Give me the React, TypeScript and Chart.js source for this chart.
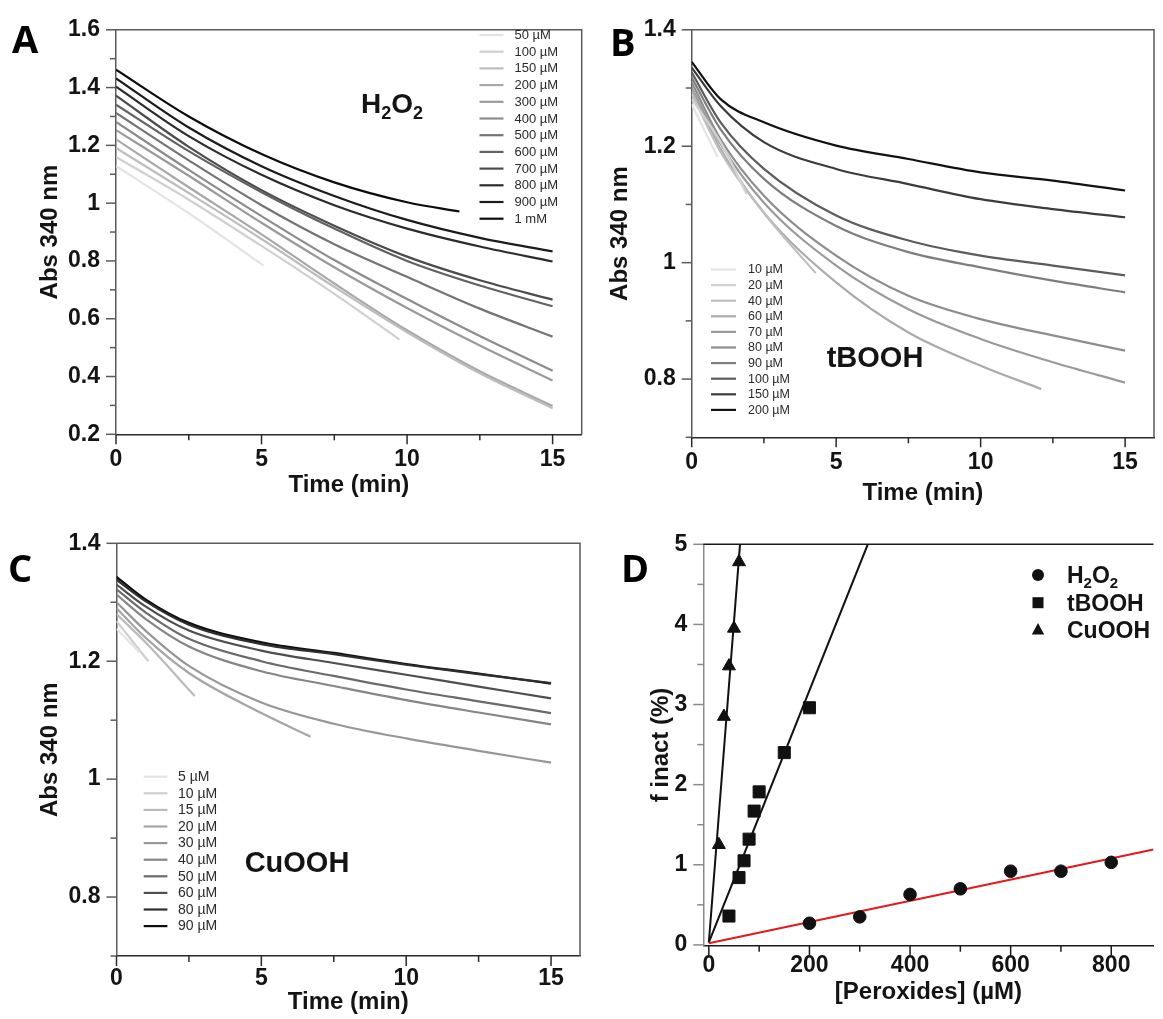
import React, { useEffect, useRef } from 'react';
import { Chart, registerables } from 'chart.js';

Chart.register(...registerables);

const FONT = "'Liberation Sans', Arial, Helvetica, sans-serif";
const LETTER_FONT = "'Open Sans', 'Liberation Sans', sans-serif";
const INK = '#141414';

// ---------------- Panel A : H2O2 ----------------
const A_LABELS = ['50 µM', '100 µM', '150 µM', '200 µM', '300 µM', '400 µM', '500 µM', '600 µM', '700 µM', '800 µM', '900 µM', '1 mM'];
const A_COLORS = ['#e4e4e4', '#d0d0d0', '#bdbdbd', '#a8a8a8', '#9a9a9a', '#8c8c8c', '#747474', '#626262', '#4c4c4c', '#2c2c2c', '#1c1c1c', '#0c0c0c'];
const A_TIMES = [
  [0, 2.5, 5.07],
  [0, 2.5, 5, 7.5, 9.74],
  [0, 2.5, 5, 7.5, 10, 12.5, 15],
  [0, 2.5, 5, 7.5, 10, 12.5, 15],
  [0, 2.5, 5, 7.5, 10, 12.5, 15],
  [0, 2.5, 5, 7.5, 10, 12.5, 15],
  [0, 2.5, 5, 7.5, 10, 12.5, 15],
  [0, 2.5, 5, 7.5, 10, 12.5, 15],
  [0, 2.5, 5, 7.5, 10, 12.5, 15],
  [0, 2.5, 5, 7.5, 10, 12.5, 15],
  [0, 2.5, 5, 7.5, 10, 12.5, 15],
  [0, 2.5, 5, 7.5, 10, 11.8],
];
const A_VALUES = [
  [1.129, 0.965, 0.784],
  [1.160, 1.012, 0.852, 0.686, 0.528],
  [1.191, 1.035, 0.876, 0.710, 0.553, 0.411, 0.290],
  [1.221, 1.055, 0.892, 0.722, 0.560, 0.418, 0.298],
  [1.253, 1.095, 0.932, 0.778, 0.637, 0.507, 0.386],
  [1.281, 1.115, 0.955, 0.803, 0.668, 0.540, 0.420],
  [1.312, 1.148, 0.993, 0.858, 0.745, 0.635, 0.538],
  [1.341, 1.180, 1.038, 0.912, 0.800, 0.715, 0.643],
  [1.372, 1.195, 1.045, 0.922, 0.815, 0.733, 0.666],
  [1.403, 1.232, 1.098, 0.993, 0.912, 0.850, 0.798],
  [1.432, 1.262, 1.128, 1.025, 0.942, 0.880, 0.833],
  [1.462, 1.300, 1.170, 1.072, 1.003, 0.971],
];
const A_Y_TICKS = [0.2, 0.3, 0.4, 0.5, 0.6, 0.7, 0.8, 0.9, 1.0, 1.1, 1.2, 1.3, 1.4, 1.5, 1.6];

// ---------------- Panel B : tBOOH ----------------
const B_LABELS = ['10 µM', '20 µM', '40 µM', '60 µM', '70 µM', '80 µM', '90 µM', '100 µM', '150 µM', '200 µM'];
const B_COLORS = ['#e4e4e4', '#d2d2d2', '#bfbfbf', '#ababab', '#9a9a9a', '#8d8d8d', '#7e7e7e', '#5c5c5c', '#3c3c3c', '#121212'];
const B_TIMES = [
  [0, 0.9],
  [0, 1, 1.9],
  [0, 1, 2.5, 4.29],
  [0, 1, 2.5, 5, 7.5, 10, 12.1],
  [0, 1, 2.5, 5, 7.5, 10, 12.5, 15],
  [0, 1, 2.5, 5, 7.5, 10, 12.5, 15],
  [0, 1, 2.5, 5, 7.5, 10, 12.5, 15],
  [0, 1, 2.5, 5, 7.5, 10, 12.5, 15],
  [0, 1, 2.5, 5, 7.5, 10, 12.5, 15],
  [0, 1, 2.5, 5, 7.5, 10, 12.5, 15],
];
const B_VALUES = [
  [1.272, 1.181],
  [1.281, 1.207, 1.118],
  [1.290, 1.190, 1.085, 0.982],
  [1.295, 1.195, 1.086, 0.966, 0.880, 0.823, 0.783],
  [1.301, 1.204, 1.103, 0.995, 0.920, 0.869, 0.829, 0.794],
  [1.310, 1.212, 1.115, 1.012, 0.943, 0.903, 0.875, 0.849],
  [1.318, 1.229, 1.144, 1.063, 1.018, 0.992, 0.969, 0.949],
  [1.327, 1.241, 1.161, 1.081, 1.038, 1.012, 0.995, 0.978],
  [1.335, 1.269, 1.207, 1.161, 1.135, 1.109, 1.092, 1.078],
  [1.345, 1.281, 1.241, 1.201, 1.178, 1.155, 1.141, 1.124],
];

// ---------------- Panel C : CuOOH ----------------
const C_LABELS = ['5 µM', '10 µM', '15 µM', '20 µM', '30 µM', '40 µM', '50 µM', '60 µM', '80 µM', '90 µM'];
const C_COLORS = ['#e4e4e4', '#cfcfcf', '#bababa', '#a5a5a5', '#979797', '#868686', '#6a6a6a', '#4e4e4e', '#2e2e2e', '#0e0e0e'];
const C_TIMES = [
  [0, 0.8],
  [0, 1.1],
  [0, 1, 2.7],
  [0, 1, 2.5, 5, 6.7],
  [0, 1, 2.5, 5, 7.5, 10, 12.5, 15],
  [0, 1, 2.5, 5, 7.5, 10, 12.5, 15],
  [0, 1, 2.5, 5, 7.5, 10, 12.5, 15],
  [0, 1, 2.5, 5, 7.5, 10, 12.5, 15],
  [0, 1, 2.5, 5, 7.5, 10, 12.5, 15],
  [0, 1, 2.5, 5, 7.5, 10, 12.5, 15],
];
const C_VALUES = [
  [1.255, 1.215],
  [1.268, 1.200],
  [1.280, 1.232, 1.141],
  [1.290, 1.240, 1.180, 1.112, 1.072],
  [1.300, 1.252, 1.192, 1.130, 1.094, 1.069, 1.048, 1.028],
  [1.313, 1.272, 1.225, 1.183, 1.158, 1.134, 1.113, 1.093],
  [1.322, 1.283, 1.238, 1.200, 1.175, 1.152, 1.132, 1.112],
  [1.330, 1.293, 1.252, 1.218, 1.197, 1.177, 1.157, 1.137],
  [1.338, 1.302, 1.262, 1.229, 1.212, 1.194, 1.178, 1.163],
  [1.343, 1.305, 1.265, 1.232, 1.214, 1.195, 1.179, 1.162],
];

const TIME_TICKS = [0, 2.5, 5, 7.5, 10, 12.5, 15];
const BC_Y_TICKS = [0.7, 0.8, 0.9, 1.0, 1.1, 1.2, 1.3, 1.4];

// ---------------- Panel D : f inact ----------------
const D_H2O2_X = [200, 300, 400, 500, 600, 700, 800];
const D_H2O2_Y = [0.27, 0.35, 0.63, 0.70, 0.92, 0.92, 1.03];
const D_TBOOH_X = [40, 60, 70, 80, 90, 100, 150, 200];
const D_TBOOH_Y = [0.36, 0.84, 1.05, 1.32, 1.67, 1.91, 2.40, 2.96];
const D_CUOOH_X = [20, 30, 40, 50, 60];
const D_CUOOH_Y = [1.25, 2.85, 3.48, 3.95, 4.78];
const FIT_H2O2_X = [0, 884];
const FIT_H2O2_Y = [0.02, 1.19];
const FIT_TBOOH_X = [0, 316];
const FIT_TBOOH_Y = [0.03, 5.0];
const FIT_CUOOH_X = [0, 62];
const FIT_CUOOH_Y = [0.03, 5.0];
const D_X_TICKS = [0, 100, 200, 300, 400, 500, 600, 700, 800];
const D_Y_TICKS = [0, 0.5, 1, 1.5, 2, 2.5, 3, 3.5, 4, 4.5, 5];

// ---------------- helpers ----------------
type Geom = {
  cx: number; cy: number; cw: number; ch: number;
  left: number; top: number; right: number; bottom: number;
  yTitleX: number; xTitleY: number; xTickPad: number;
};

const G_A: Geom = { cx: 0, cy: 0, cw: 598, ch: 510, left: 116, top: 21, right: 581.7, bottom: 434.3, yTitleX: 50, xTitleY: 485, xTickPad: 12 };
const G_B: Geom = { cx: 595, cy: 0, cw: 568, ch: 510, left: 691.7, top: 26.7, right: 1154, bottom: 437.3, yTitleX: 620.7, xTitleY: 493, xTickPad: 12 };
const G_C: Geom = { cx: 0, cy: 505, cw: 598, ch: 514, left: 116.5, top: 543.3, right: 580, bottom: 956, yTitleX: 50, xTitleY: 1002, xTickPad: 9 };
const G_D: Geom = { cx: 595, cy: 505, cw: 568, ch: 514, left: 703.3, top: 544.3, right: 1163, bottom: 945.7, yTitleX: 661, xTitleY: 992, xTickPad: 6 };

const TITLE_SIZE = 24;
const TICK_SIZE = 23;
const TITLE_LH = TITLE_SIZE * 1.2;

const pts = (xs: number[], ys: number[]) => xs.map((x, i) => ({ x, y: ys[i] }));

const ticksPlugin = {
  id: 'manualTicks',
  afterDraw(chart: any) {
    const ctx = chart.ctx;
    ['x', 'y'].forEach((id) => {
      const s = chart.scales[id];
      if (!s) return;
      ctx.save();
      ctx.strokeStyle = s.options.border.color;
      ctx.lineWidth = 1.5;
      s.ticks.forEach((t: any) => {
        const major = t.label !== '' && t.label !== undefined;
        const len = major ? 10 : 6;
        const p = s.getPixelForValue(t.value);
        ctx.beginPath();
        if (id === 'x') {
          ctx.moveTo(p, s.top);
          ctx.lineTo(p, s.top + len);
        } else {
          ctx.moveTo(s.right, p);
          ctx.lineTo(s.right - len, p);
        }
        ctx.stroke();
      });
      ctx.restore();
    });
  },
};

function framePlugin(color: string, right: boolean) {
  return {
    id: 'frame',
    afterDraw(chart: any) {
      const { ctx, chartArea: a } = chart;
      ctx.save();
      ctx.strokeStyle = color;
      ctx.lineWidth = 1.5;
      ctx.beginPath();
      ctx.moveTo(a.left, a.top);
      ctx.lineTo(a.right, a.top);
      if (right) ctx.lineTo(a.right, a.bottom);
      ctx.stroke();
      ctx.restore();
    },
  };
}

type Part = { t: string; sub?: boolean };

function drawRich(ctx: CanvasRenderingContext2D, parts: Part[], x: number, y: number, size: number, align: 'left' | 'center') {
  const main = `bold ${size}px ${FONT}`;
  const sub = `bold ${Math.round(size * 0.64)}px ${FONT}`;
  const widths = parts.map((p) => {
    ctx.font = p.sub ? sub : main;
    return ctx.measureText(p.t).width;
  });
  const total = widths.reduce((a, b) => a + b, 0);
  let cx = align === 'center' ? x - total / 2 : x;
  ctx.textAlign = 'left';
  ctx.textBaseline = 'alphabetic';
  ctx.fillStyle = INK;
  parts.forEach((p, i) => {
    ctx.font = p.sub ? sub : main;
    ctx.fillText(p.t, cx, p.sub ? y + size * 0.2 : y);
    cx += widths[i];
  });
}

function drawLetter(ctx: CanvasRenderingContext2D, letter: string, x: number, y: number) {
  ctx.font = `bold 38px ${LETTER_FONT}`;
  ctx.fillStyle = '#000';
  ctx.textAlign = 'left';
  ctx.textBaseline = 'alphabetic';
  ctx.fillText(letter, x, y);
}

type LegendSpec = { x0: number; x1: number; tx: number; y0: number; dy: number; size: number };

function overlayPlugin(g: Geom, draw: (ctx: CanvasRenderingContext2D, chart: any) => void) {
  return {
    id: 'overlay',
    afterDraw(chart: any) {
      const ctx = chart.ctx as CanvasRenderingContext2D;
      ctx.save();
      ctx.translate(-g.cx, -g.cy);
      draw(ctx, chart);
      ctx.restore();
    },
  };
}

function drawLineLegend(ctx: CanvasRenderingContext2D, labels: string[], colors: string[], L: LegendSpec) {
  labels.forEach((lab, i) => {
    const y = L.y0 + i * L.dy;
    ctx.strokeStyle = colors[i];
    ctx.lineWidth = 2.2;
    ctx.beginPath();
    ctx.moveTo(L.x0, y);
    ctx.lineTo(L.x1, y);
    ctx.stroke();
    ctx.fillStyle = '#2a2a2a';
    ctx.font = `${L.size}px ${FONT}`;
    ctx.textAlign = 'left';
    ctx.textBaseline = 'middle';
    ctx.fillText(lab, L.tx, y + 0.5);
  });
}

function axisCommon(g: Geom) {
  return {
    yWidth: g.left - g.cx,
    xHeight: g.cy + g.ch - g.bottom,
    padTop: g.top - g.cy,
    padRight: g.cx + g.cw - g.right,
    yTitlePad: g.yTitleX - g.cx - TITLE_LH / 2,
    xTitlePad: g.cy + g.ch - g.xTitleY - TITLE_LH / 2,
  };
}

function scaleOptions(
  g: Geom,
  xr: [number, number], yr: [number, number],
  xTicks: number[], yTicks: number[],
  xLabel: (v: number) => string, yLabel: (v: number) => string,
  xTitle: string, yTitle: string,
  yColor: string, xColor: string
) {
  const c = axisCommon(g);
  const tickFont = { family: FONT, size: TICK_SIZE, weight: 'bold' as const };
  const titleFont = { family: FONT, size: TITLE_SIZE, weight: 'bold' as const };
  return {
    layout: { padding: { left: 0, top: c.padTop, right: c.padRight, bottom: 0 } },
    scales: {
      x: {
        type: 'linear',
        min: xr[0], max: xr[1],
        afterBuildTicks: (s: any) => { s.ticks = xTicks.map((v) => ({ value: v })); },
        afterFit: (s: any) => { s.height = c.xHeight; },
        ticks: { autoSkip: false, maxRotation: 0, minRotation: 0, padding: g.xTickPad, font: tickFont, color: INK, callback: (v: any) => xLabel(Number(v)) },
        grid: { display: true, drawOnChartArea: false, drawTicks: false },
        border: { display: true, color: xColor, width: 1.5 },
        title: { display: true, text: xTitle, font: titleFont, color: INK, padding: { top: 0, bottom: c.xTitlePad } },
      },
      y: {
        type: 'linear',
        min: yr[0], max: yr[1],
        afterBuildTicks: (s: any) => { s.ticks = yTicks.map((v) => ({ value: v })); },
        afterFit: (s: any) => { s.width = c.yWidth; },
        ticks: { autoSkip: false, padding: 16, font: tickFont, color: INK, callback: (v: any) => yLabel(Number(v)) },
        grid: { display: true, drawOnChartArea: false, drawTicks: false },
        border: { display: true, color: yColor, width: 1.5 },
        title: { display: true, text: yTitle, font: titleFont, color: INK, padding: { top: c.yTitlePad, bottom: 0 } },
      },
    },
  };
}

const timeLabel = (v: number) => (Math.round(v * 10) % 50 === 0 ? String(Math.round(v)) : '');
const evenTenth = (v: number) => {
  const k = Math.round(v * 10);
  return k % 2 === 0 ? String(k / 10) : '';
};

function kineticConfig(
  g: Geom, labels: string[], colors: string[], times: number[][], values: number[][],
  yr: [number, number], yTicks: number[], draw: (ctx: CanvasRenderingContext2D) => void
): any {
  const so = scaleOptions(g, [0, 16], yr, TIME_TICKS, yTicks, timeLabel, evenTenth, 'Time (min)', 'Abs 340 nm', '#5a5a5a', '#2a2a2a');
  return {
    type: 'line',
    data: {
      datasets: labels.map((lab, i) => ({
        label: lab,
        data: pts(times[i], values[i]),
        borderColor: colors[i],
        borderWidth: 2.2,
        pointRadius: 0,
        fill: false,
        cubicInterpolationMode: 'monotone',
      })),
    },
    options: {
      animation: false,
      responsive: false,
      maintainAspectRatio: false,
      layout: so.layout,
      plugins: { legend: { display: false }, tooltip: { enabled: false } },
      scales: so.scales,
    },
    plugins: [ticksPlugin, framePlugin('#5a5a5a', true), overlayPlugin(g, draw)],
  };
}

function dConfig(g: Geom): any {
  const so = scaleOptions(
    g, [-11, 884], [-0.01, 5], D_X_TICKS, D_Y_TICKS,
    (v) => (Math.round(v) % 200 === 0 ? String(Math.round(v)) : ''),
    (v) => (Math.round(v * 2) % 2 === 0 ? String(Math.round(v)) : ''),
    '[Peroxides] (µM)', 'f inact (%)', '#8a8a8a', '#1a1a1a'
  );
  const fit = (xs: number[], ys: number[], color: string) => ({
    type: 'line',
    data: pts(xs, ys),
    borderColor: color,
    borderWidth: 2,
    pointRadius: 0,
    showLine: true,
    fill: false,
    order: 2,
  });
  const marks = (xs: number[], ys: number[], style: string, r: number, label: string) => ({
    type: 'scatter',
    label,
    data: pts(xs, ys),
    pointStyle: style,
    pointRadius: r,
    backgroundColor: '#111',
    borderColor: '#111',
    borderWidth: 1,
    showLine: false,
    order: 1,
  });
  return {
    type: 'scatter',
    data: {
      datasets: [
        fit(FIT_H2O2_X, FIT_H2O2_Y, '#e3191c'),
        fit(FIT_TBOOH_X, FIT_TBOOH_Y, '#111'),
        fit(FIT_CUOOH_X, FIT_CUOOH_Y, '#111'),
        marks(D_H2O2_X, D_H2O2_Y, 'circle', 6.3, 'H2O2'),
        marks(D_TBOOH_X, D_TBOOH_Y, 'rect', 8.5, 'tBOOH'),
        marks(D_CUOOH_X, D_CUOOH_Y, 'triangle', 7.5, 'CuOOH'),
      ],
    },
    options: {
      animation: false,
      responsive: false,
      maintainAspectRatio: false,
      layout: so.layout,
      plugins: { legend: { display: false }, tooltip: { enabled: false } },
      scales: so.scales,
    },
    plugins: [
      ticksPlugin,
      framePlugin('#1a1a1a', false),
      overlayPlugin(g, (ctx) => {
        drawLetter(ctx, 'D', 621, 582);
        ctx.fillStyle = '#111';
        ctx.beginPath();
        ctx.arc(1038, 575, 6, 0, Math.PI * 2);
        ctx.fill();
        ctx.fillRect(1032.5, 597.2, 11, 11);
        ctx.beginPath();
        ctx.moveTo(1038, 623);
        ctx.lineTo(1044.2, 634.5);
        ctx.lineTo(1031.8, 634.5);
        ctx.closePath();
        ctx.fill();
        drawRich(ctx, [{ t: 'H' }, { t: '2', sub: true }, { t: 'O' }, { t: '2', sub: true }], 1067, 583, 23, 'left');
        drawRich(ctx, [{ t: 'tBOOH' }], 1067, 611, 23, 'left');
        drawRich(ctx, [{ t: 'CuOOH' }], 1067, 638, 23, 'left');
      }),
    ],
  };
}

function Panel({ g, make }: { g: Geom; make: () => any }) {
  const ref = useRef<HTMLCanvasElement | null>(null);
  useEffect(() => {
    if (!ref.current) return;
    const chart = new Chart(ref.current, make());
    return () => chart.destroy();
  }, []);
  return (
    <canvas
      ref={ref}
      width={g.cw}
      height={g.ch}
      style={{ position: 'absolute', left: g.cx, top: g.cy, width: g.cw, height: g.ch }}
    />
  );
}

export default function App() {
  return (
    <div style={{ position: 'absolute', left: 0, top: 0, width: 1163, height: 1019, overflow: 'hidden', background: '#fff' }}>
      <Panel
        g={G_A}
        make={() =>
          kineticConfig(G_A, A_LABELS, A_COLORS, A_TIMES, A_VALUES, [0.2, 1.6], A_Y_TICKS, (ctx) => {
            drawLetter(ctx, 'A', 12, 53);
            drawRich(ctx, [{ t: 'H' }, { t: '2', sub: true }, { t: 'O' }, { t: '2', sub: true }], 361, 113, 28, 'left');
            drawLineLegend(ctx, A_LABELS, A_COLORS, { x0: 479.5, x1: 503.5, tx: 514.5, y0: 35, dy: 16.7, size: 13 });
          })
        }
      />
      <Panel
        g={G_B}
        make={() =>
          kineticConfig(G_B, B_LABELS, B_COLORS, B_TIMES, B_VALUES, [0.7, 1.4], BC_Y_TICKS, (ctx) => {
            drawLetter(ctx, 'B', 610, 56);
            drawRich(ctx, [{ t: 'tBOOH' }], 875, 367, 29, 'center');
            drawLineLegend(ctx, B_LABELS, B_COLORS, { x0: 711, x1: 736, tx: 748, y0: 269.5, dy: 15.6, size: 12.5 });
          })
        }
      />
      <Panel
        g={G_C}
        make={() =>
          kineticConfig(G_C, C_LABELS, C_COLORS, C_TIMES, C_VALUES, [0.7, 1.4], BC_Y_TICKS, (ctx) => {
            drawLetter(ctx, 'C', 8, 582);
            drawRich(ctx, [{ t: 'CuOOH' }], 297, 872, 29, 'center');
            drawLineLegend(ctx, C_LABELS, C_COLORS, { x0: 143.7, x1: 167.4, tx: 178, y0: 776.7, dy: 16.6, size: 14 });
          })
        }
      />
      <Panel g={G_D} make={() => dConfig(G_D)} />
    </div>
  );
}
